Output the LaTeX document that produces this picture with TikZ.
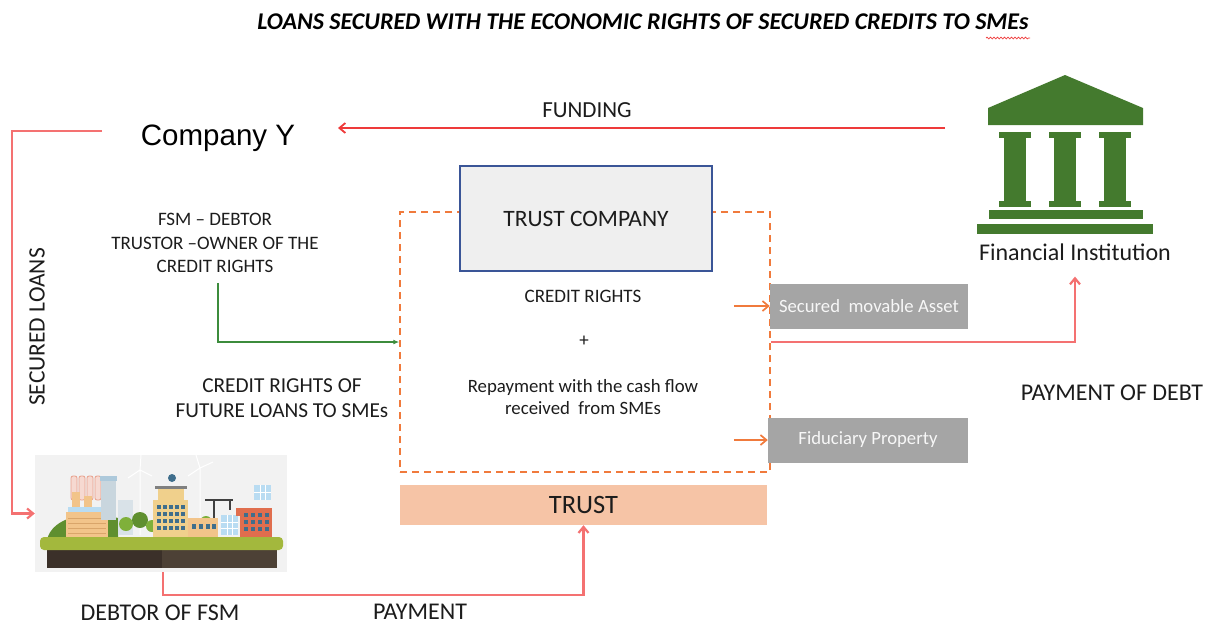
\documentclass[tikz,border=0pt]{standalone}
\usepackage{fontspec}
\setmainfont{Carlito}
\newfontfamily\arialfont{Liberation Sans}
\usetikzlibrary{positioning, arrows.meta, decorations.pathmorphing}

\definecolor{loanred}{HTML}{F47171}
\definecolor{fundred}{HTML}{EE3A3A}
\definecolor{dashorange}{HTML}{F07A3C}
\definecolor{flowgreen}{HTML}{3C8C3C}
\definecolor{bankgreen}{HTML}{447A2E}
\definecolor{assetgray}{HTML}{A5A5A5}
\definecolor{trustpeach}{HTML}{F6C4A6}
\definecolor{tcblue}{HTML}{3A5597}
\definecolor{tcfill}{HTML}{EFEFEF}
\definecolor{txtgray}{HTML}{1C1C1C}
% city colours
\definecolor{citybg}{HTML}{F2F2F2}
\definecolor{citybase}{HTML}{3B3029}
\definecolor{citybaseb}{HTML}{4D4136}
\definecolor{citygrass}{HTML}{A3B83D}
\definecolor{cityhill}{HTML}{5F8F2F}
\definecolor{citytree}{HTML}{7FB03A}
\definecolor{citycream}{HTML}{F2C48A}
\definecolor{cityline}{HTML}{D9A56A}
\definecolor{cityyellow}{HTML}{F0D08C}
\definecolor{citybrick}{HTML}{E06E4E}
\definecolor{citywin}{HTML}{3F6E8C}
\definecolor{citysolar}{HTML}{B9DCF2}
\definecolor{citytower}{HTML}{C9D6DE}
\definecolor{citypink}{HTML}{E8A08C}

\tikzset{
  lbl/.style={font=\fontsize{24}{25}\selectfont, text=txtgray, align=center, inner sep=0pt},
  small/.style={font=\fontsize{19}{22}\selectfont, text=txtgray, align=center, inner sep=0pt},
  assetbox/.style={fill=assetgray, text=white!94!gray, font=\fontsize{18.7}{20}\selectfont,
    minimum width=198, minimum height=45, inner sep=0pt},
  redline/.style={draw=loanred, line width=2.2pt},
  tip/.style={-{Straight Barb[length=6pt,width=10pt]}},
}

\begin{document}
\begin{tikzpicture}[x=1pt, y=-1pt]
    \useasboundingbox (0,0) rectangle (1211,625);

    % Title with the spell-check squiggle under SMEs
    \node[font=\fontsize{24}{26}\selectfont\bfseries\itshape, inner sep=0pt] (title) at (643,22)
        {LOANS SECURED WITH THE ECONOMIC RIGHTS OF SECURED CREDITS TO SMEs};
    \draw[fundred, line width=0.7pt, decorate, decoration={snake, amplitude=0.9pt, segment length=3.5pt}]
        (986,38) -- (1030,38);

    % Company Y and the funding from the bank
    \node[font=\arialfont\fontsize{29.5}{32}\selectfont, inner sep=0pt] (comp) at (218,138) {Company Y};
    \coordinate (fundstart) at (945,128);
    \coordinate (fundend) at (338,128);
    \draw[fundred, line width=1.8pt, tip] (fundstart) -- (fundend);
    \node[lbl, font=\fontsize{23}{25}\selectfont] (fund) at (587,110) {FUNDING};

    % Bank icon
    \begin{scope}[fill=bankgreen]
        \fill (988,108) -- (1065,75) -- (1143,108) -- (1143,125) -- (988,125) -- cycle;
        \foreach \cx in {1015,1065,1115} {
            \fill (\cx-16,132) rectangle (\cx+16,138);
            \fill (\cx-11,138) rectangle (\cx+11,201);
            \fill (\cx-16,201) rectangle (\cx+16,207);
        }
        \fill (989,210) rectangle (1143,219);
        \fill (977,224) rectangle (1153,234);
    \end{scope}
    \node[lbl] (fin) at (1075,252) {Financial Institution};

    % Trust area (dashed) and the trust company on top of it
    \node[draw=dashorange, line width=1.5pt, dash pattern=on 7pt off 5pt,
          minimum width=370, minimum height=260, inner sep=0pt] (area) at (585,342) {};
    \node[draw=tcblue, fill=tcfill, line width=1.3pt, minimum width=252, minimum height=105,
          inner sep=0pt, font=\fontsize{23.5}{26}\selectfont, text=txtgray] (tc) at (586,218.5) {TRUST COMPANY};

    \node[small] (cr) at (583,296) {CREDIT RIGHTS};
    \node[small] (plus) at (584,341) {+};
    \node[small, font=\fontsize{18.8}{22}\selectfont] (repay) at (583,397)
        {Repayment with the cash flow\\received~~from SMEs};

    % Assets held in the trust
    \node[assetbox] (asset) at (869,306) {Secured~~movable Asset};
    \node[assetbox, minimum width=200] (fidu) at (868,440) {Fiduciary Property};
    \draw[dashorange, line width=1.7pt, tip] ([xshift=-36]asset.west) -- (asset.west);
    \draw[dashorange, line width=1.7pt, tip] ([xshift=-34]fidu.west) -- (fidu.west);

    \node[fill=trustpeach, minimum width=367, minimum height=40, inner sep=0pt,
          font=\fontsize{26.5}{28}\selectfont, text=txtgray] (trust) at (583.5,505) {TRUST};

    % Payment of the debt to the bank
    \draw[redline, tip] (area.east) -| ([yshift=-16]fin.south);
    \node[lbl] (debt) at (1112,393) {PAYMENT OF DEBT};

    % Left side: trustor and credit rights
    \node[small, font=\fontsize{19}{23.5}\selectfont] (fsm) at (215,243)
        {FSM – DEBTOR\\TRUSTOR –OWNER OF THE\\CREDIT RIGHTS};
    \draw[flowgreen, line width=1.5pt, -{Latex[length=6pt,width=5pt]}]
        ([xshift=3, yshift=-10]fsm.south) |- (area.west);
    \node[lbl, font=\fontsize{21.3}{25}\selectfont] (future) at (282,398)
        {CREDIT RIGHTS OF\\FUTURE LOANS TO SMEs};
    \node[lbl, font=\fontsize{23.5}{25}\selectfont, rotate=90] (sec) at (37,327) {SECURED LOANS};

    % City of SMEs
    \node[fill=citybg, minimum width=252, minimum height=117, inner sep=0pt] (city) at (161,513.5) {};
    \begin{scope}
        \fill[citybase] (47,549) rectangle (162,568);
        \fill[citybaseb] (162,549) rectangle (277,568);
        \fill[cityhill] (47,540) .. controls (52,516) and (90,510) .. (118,518) -- (118,540) -- cycle;
        % left factory
        \foreach \cx in {74,82,90,98}
            \draw[citypink, fill=citypink!40, line width=0.8pt, rounded corners=2] (\cx-3,476) rectangle (\cx+3,500);
        \fill[citycream] (72,492) rectangle (80,512);
        \fill[citycream] (84,496) rectangle (92,512);
        \fill[citysolar] (68,507) rectangle (106,513);
        \fill[citycream] (66,512) rectangle (108,538);
        \foreach \ly in {518,523,528,533}
            \draw[cityline, line width=0.8pt] (68,\ly) -- (106,\ly);
        % towers behind
        \fill[citytower] (101,478) rectangle (116,520);
        \fill[citysolar!80!gray] (100,476) rectangle (117,481);
        \fill[citytower!70] (118,500) rectangle (133,535);
        % wind turbines
        \draw[white, line width=1pt] (140,535) -- (140,470) (140,470) -- (128,478) (140,470) -- (152,476) (140,470) -- (141,455);
        \draw[white, line width=1pt] (200,530) -- (200,468) (200,468) -- (188,476) (200,468) -- (213,462) (200,468) -- (196,455);
        % trees
        \fill[citytree] (126,524) circle (7);
        \fill[cityhill] (140,520) circle (8);
        \fill[citytree] (152,526) circle (6);
        \fill[citytree] (206,522) circle (6);
        % central building
        \fill[cityyellow] (158,488) rectangle (184,500);
        \fill[gray] (155,486) rectangle (187,489);
        \fill[cityyellow] (153,500) rectangle (188,538);
        \fill[citywin] (172,478) circle (4);
        \foreach \wx in {157,163,169,175,181}
            \foreach \wy in {505,512,519,526}
                \fill[citywin] (\wx,\wy) rectangle (\wx+3.5,\wy+4);
        \fill[citycream] (188,518) rectangle (218,538);
        \foreach \wx in {192,199,206,212}
            \fill[citywin] (\wx,524) rectangle (\wx+3.5,529);
        % crane and solar panel
        \draw[darkgray, line width=1.5pt] (205,500) -- (233,500) (214,500) -- (214,518) (230,500) -- (230,510);
        \fill[citysolar] (221,515) rectangle (238,535);
        \draw[white, line width=0.4pt] (227,515) -- (227,535) (232,515) -- (232,535) (221,522) -- (238,522) (221,528) -- (238,528);
        % brick building
        \fill[citybrick] (236,508) rectangle (242,516);
        \fill[citybrick] (240,508) rectangle (272,538);
        \foreach \wx in {244,251,258,265}
            \foreach \wy in {513,520,527}
                \fill[citywin] (\wx,\wy) rectangle (\wx+3.5,\wy+4);
        \fill[citysolar] (254,485) rectangle (271,500);
        \draw[white, line width=0.4pt] (260,485) -- (260,500) (265,485) -- (265,500) (254,492) -- (271,492);
        % grass band
        \fill[citygrass, rounded corners=4] (40,537) rectangle (283,550);
    \end{scope}

    % Secured loans from Company Y to the SMEs
    \coordinate (yline) at (102,131);
    \draw[redline, tip] (yline) -- ++(-90,0) |- (city.west);

    % Payment of the SMEs into the trust
    \draw[redline, tip] ([xshift=2]city.south) -- ++(0,23) -| (trust.south);
    \node[lbl] (debtor) at (160,613) {DEBTOR OF FSM};
    \node[lbl] (pay) at (420,612) {PAYMENT};
\end{tikzpicture}
\end{document}
